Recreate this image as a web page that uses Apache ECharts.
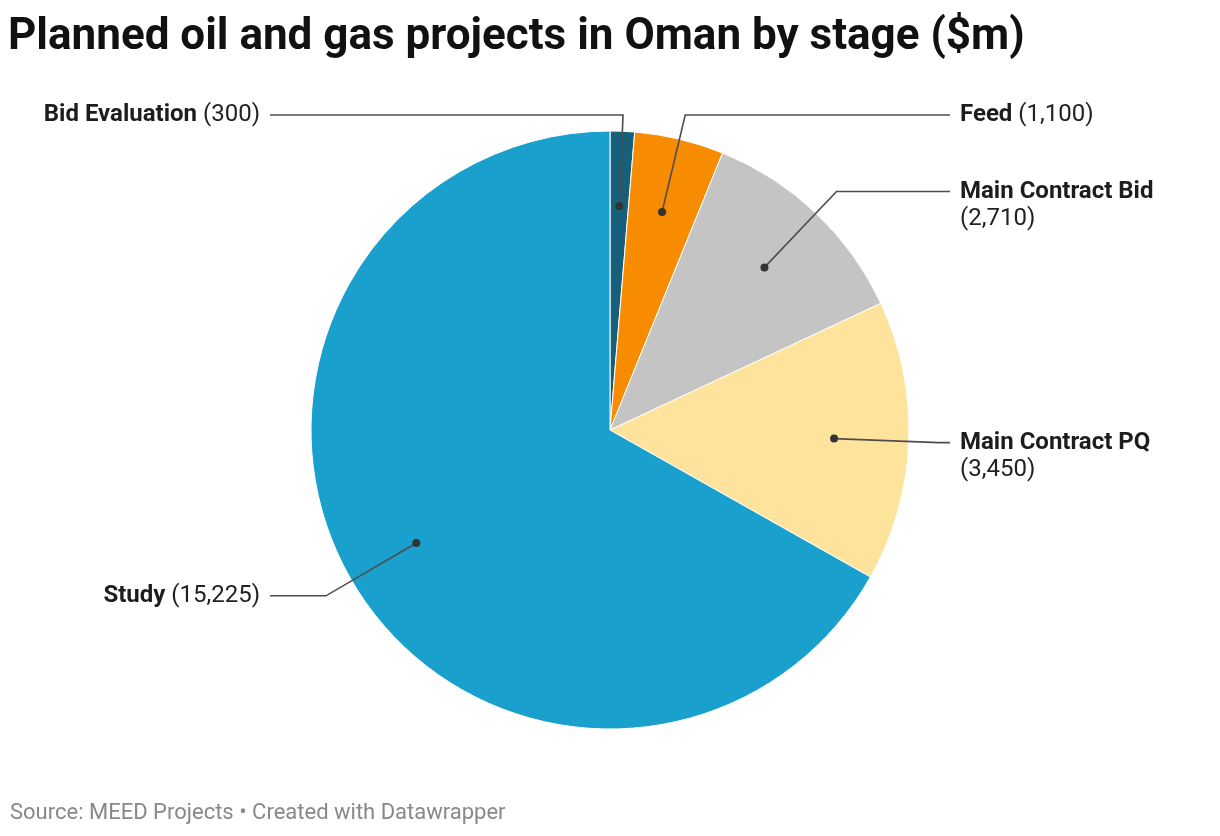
<!DOCTYPE html>
<html><head><meta charset="utf-8">
<script src="https://cdn.jsdelivr.net/npm/echarts@6/dist/echarts.min.js"></script>
<style>html,body{margin:0;padding:0;background:#fff}#c{width:1220px;height:836px}</style>
</head><body><div id="c"></div>
<script>
// ---- data ----
const categories = ['Bid Evaluation', 'Feed', 'Main Contract Bid', 'Main Contract PQ', 'Study'];
const values = [300, 1100, 2710, 3450, 15225];
const colors = ['#17607c', '#f78c00', '#c4c4c4', '#fee39c', '#1aa0cc'];
const titleText = 'Planned oil and gas projects in Oman by stage ($m)';
const sourceText = 'Source: MEED Projects \u2022 Created with Datawrapper';

// ---- layout ----
const CX = 610, CY = 430, R = 299;
const DOT_R = 0.75;         // dot radius as share of R
const BEND_R = 1.1;         // elbow radius as share of R
const TOP_Y = CY - R - 16;  // highest label line
const RIGHT_TEXT_X = 960, LEFT_TEXT_X = 260, GAP = 10;
const LINE_H = 27;
const FONT = 'Roboto, "Noto Sans", sans-serif';

const total = values.reduce((a, b) => a + b, 0);
const mids = [];
let cum = 0;
values.forEach(v => { mids.push(cum + v / 2); cum += v; });
const fmt = v => v.toLocaleString('en-US');

const chart = echarts.init(document.getElementById('c'), null, { renderer: 'canvas' });
chart.setOption({
  animation: false,
  backgroundColor: '#fff',
  title: [
    { text: titleText, left: 8, top: 16, padding: 0,
      textStyle: { fontFamily: FONT, fontSize: 44, fontWeight: 'bold', color: '#111' } },
    { text: sourceText, left: 10, top: 802, padding: 0,
      textStyle: { fontFamily: FONT, fontSize: 22, fontWeight: 'normal', color: '#888' } }
  ],
  polar: { center: [CX, CY], radius: R },
  angleAxis: { type: 'value', min: 0, max: total, startAngle: 90, clockwise: true, show: false },
  radiusAxis: { type: 'value', min: 0, max: 1, show: false },
  series: [
    {
      type: 'pie',
      center: [CX, CY],
      radius: R,
      startAngle: 90,
      clockwise: true,
      silent: true,
      label: { show: false },
      labelLine: { show: false },
      data: categories.map((c, i) => ({ name: c, value: values[i], itemStyle: { color: colors[i] } })),
      itemStyle: { borderColor: '#fff', borderWidth: 1 }
    },
    {
      type: 'custom',
      coordinateSystem: 'polar',
      silent: true,
      z: 5,
      data: mids.map((m, i) => [DOT_R, m, i]),
      encode: { radius: 0, angle: 1 },
      renderItem: (params, api) => {
        const m = api.value(1);
        const i = api.value(2);
        const c = api.coord([0, m]);
        const dot = api.coord([DOT_R, m]);
        let bend = api.coord([BEND_R, m]);
        if (bend[1] < TOP_Y) {
          const t = (c[1] - TOP_Y) / (c[1] - bend[1]);
          bend = [c[0] + t * (bend[0] - c[0]), TOP_Y];
        }
        const right = (bend[0] - c[0]) > 0.1 * R;
        const endX = right ? RIGHT_TEXT_X - GAP : LEFT_TEXT_X + GAP;
        const name = categories[i];
        const wrap = right && name.length > 12;
        const txt = '{b|' + name + '}' + (wrap ? '\n{v|(' : '{v| (') + fmt(values[i]) + ')}';
        return {
          type: 'group',
          children: [
            { type: 'polyline', shape: { points: [dot, bend, [endX, bend[1]]] },
              style: { stroke: '#4d4d4d', lineWidth: 1.6, fill: null } },
            { type: 'circle', shape: { cx: dot[0], cy: dot[1], r: 4 },
              style: { fill: '#333' } },
            { type: 'text', x: right ? RIGHT_TEXT_X : LEFT_TEXT_X, y: bend[1] - LINE_H / 2,
              style: {
                text: txt,
                align: right ? 'left' : 'right',
                verticalAlign: 'top',
                rich: {
                  b: { fontFamily: FONT, fontSize: 24, fontWeight: 'bold', fill: '#1d1d1d', lineHeight: LINE_H },
                  v: { fontFamily: FONT, fontSize: 24, fontWeight: 'normal', fill: '#222', lineHeight: LINE_H }
                }
              } }
          ]
        };
      }
    }
  ]
});
</script>
</body></html>
